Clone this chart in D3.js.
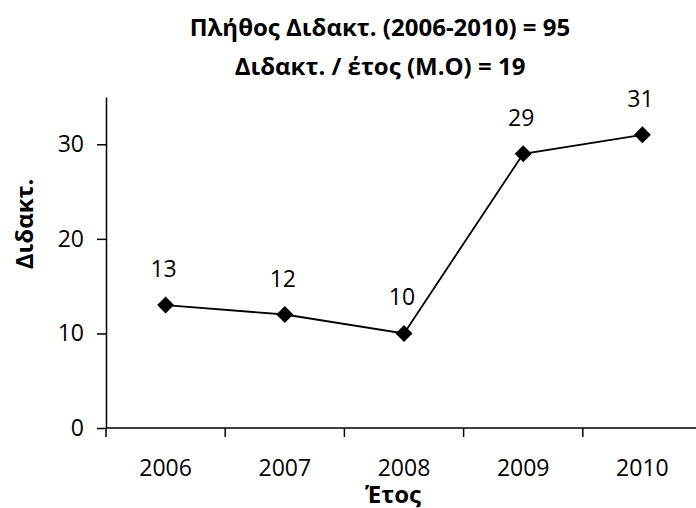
<!DOCTYPE html>
<meta charset="utf-8">
<body style="margin:0;background:#fff">
<style>
  text { font-family: "Open Sans", "Noto Sans", sans-serif; fill: #000; }
  .title { font-weight: bold; font-size: 24px; }
  .axis path, .axis line { stroke: #000; stroke-width: 1.5px; }
  .lbl { font-size: 23px; }
</style>
<script src="https://d3js.org/d3.v7.min.js"></script>
<script>
var years = ["2006", "2007", "2008", "2009", "2010"];
var counts = [13, 12, 10, 29, 31];
var yTicks = [0, 10, 20, 30];
var titleLines = ["Πλήθος Διδακτ. (2006-2010) = 95", "Διδακτ. / έτος (Μ.Ο) = 19"];

var width = 696, height = 508;
var mLeft = 106, mBottom = 428, mTop = 97, mRight = 702;

var svg = d3.select("body").append("svg")
  .attr("width", width)
  .attr("height", height);

var x = d3.scaleBand().domain(years).range([mLeft, mRight]);
var y = d3.scaleLinear().domain([0, 35]).range([mBottom, mTop]);

// x axis, ticks sit between categories
var xg = svg.append("g").attr("class", "axis")
  .attr("transform", "translate(0," + mBottom + ")");
xg.append("line").attr("x1", mLeft).attr("x2", mRight);
xg.selectAll(".tk").data(d3.range(years.length + 1)).enter().append("line")
  .attr("x1", function(i) { return mLeft + i * x.step(); })
  .attr("x2", function(i) { return mLeft + i * x.step(); })
  .attr("y1", 0).attr("y2", 9);
xg.selectAll(".lb").data(years).enter().append("text")
  .attr("class", "lbl")
  .attr("x", function(d) { return x(d) + x.bandwidth() / 2; })
  .attr("y", 48)
  .attr("text-anchor", "middle")
  .text(function(d) { return d; });

// y axis
var yg = svg.append("g").attr("class", "axis")
  .attr("transform", "translate(" + mLeft + ",0)")
  .call(d3.axisLeft(y).tickValues(yTicks).tickSize(9).tickPadding(13).tickSizeOuter(0));
yg.selectAll("text").attr("class", "lbl").attr("font-size", null).attr("font-family", null);

var line = d3.line()
  .x(function(d, i) { return x(years[i]) + x.bandwidth() / 2; })
  .y(function(d) { return y(d); });

svg.append("path").datum(counts)
  .attr("d", line)
  .attr("fill", "none")
  .attr("stroke", "#000")
  .attr("stroke-width", 1.8);

svg.selectAll(".pt").data(counts).enter().append("path")
  .attr("d", d3.symbol().type(d3.symbolSquare).size(144))
  .attr("transform", function(d, i) {
    return "translate(" + (x(years[i]) + x.bandwidth() / 2) + "," + y(d) + ") rotate(45)";
  })
  .attr("fill", "#000");

svg.selectAll(".val").data(counts).enter().append("text")
  .attr("class", "lbl")
  .attr("x", function(d, i) { return x(years[i]) + x.bandwidth() / 2 - 2; })
  .attr("y", function(d) { return y(d) - 28; })
  .attr("text-anchor", "middle")
  .text(function(d) { return d; });

svg.selectAll(".title").data(titleLines).enter().append("text")
  .attr("class", "title")
  .attr("x", 380)
  .attr("y", function(d, i) { return 36 + i * 39; })
  .attr("text-anchor", "middle")
  .text(function(d) { return d; });

svg.append("text")
  .attr("class", "title")
  .attr("transform", "translate(33,224) rotate(-90)")
  .attr("text-anchor", "middle")
  .text("Διδακτ.");

svg.append("text")
  .attr("class", "title")
  .attr("x", 393)
  .attr("y", 503)
  .attr("text-anchor", "middle")
  .text("Έτος");
</script>
</body>
